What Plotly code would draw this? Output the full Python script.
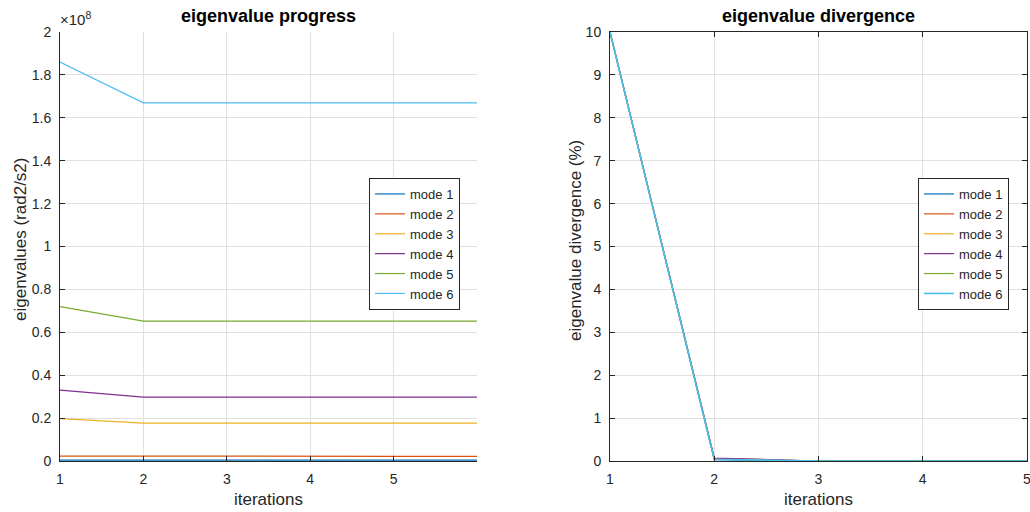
import plotly.graph_objects as go

# ---- data ----
iter_progress = [1, 2, 3, 4, 5, 6]
iter_diverg = [1, 2, 3, 4, 5]
mode_names = ["mode 1", "mode 2", "mode 3", "mode 4", "mode 5", "mode 6"]

mode1_eig = [0.004e8, 0.004e8, 0.004e8, 0.004e8, 0.004e8, 0.004e8]
mode2_eig = [0.023e8, 0.022e8, 0.022e8, 0.022e8, 0.022e8, 0.022e8]
mode3_eig = [0.198e8, 0.177e8, 0.177e8, 0.177e8, 0.177e8, 0.177e8]
mode4_eig = [0.33e8, 0.298e8, 0.298e8, 0.298e8, 0.298e8, 0.298e8]
mode5_eig = [0.72e8, 0.652e8, 0.652e8, 0.652e8, 0.652e8, 0.652e8]
mode6_eig = [1.86e8, 1.67e8, 1.67e8, 1.67e8, 1.67e8, 1.67e8]

mode1_div = [10, 0.03, 0, 0, 0]
mode2_div = [10, 0.06, 0, 0, 0]
mode3_div = [10, 0.05, 0, 0, 0]
mode4_div = [10, 0.07, 0, 0, 0]
mode5_div = [10, 0.04, 0, 0, 0]
mode6_div = [10, 0.04, 0, 0, 0]

left_ytick_vals = [0, 0.2e8, 0.4e8, 0.6e8, 0.8e8, 1.0e8, 1.2e8, 1.4e8, 1.6e8, 1.8e8, 2.0e8]
left_ytick_text = ["0", "0.2", "0.4", "0.6", "0.8", "1", "1.2", "1.4", "1.6", "1.8", "2"]
left_xticks = [1, 2, 3, 4, 5]
right_yticks = [0, 1, 2, 3, 4, 5, 6, 7, 8, 9, 10]
right_xticks = [1, 2, 3, 4, 5]

colors = ["#0072BD", "#D95319", "#EDB120", "#7E2F8E", "#77AC30", "#4DBEEE"]

eig_series = [mode1_eig, mode2_eig, mode3_eig, mode4_eig, mode5_eig, mode6_eig]
div_series = [mode1_div, mode2_div, mode3_div, mode4_div, mode5_div, mode6_div]

FONT = "Liberation Sans, Arial, sans-serif"
TXT = "#262626"
GRID = "#e0e0e0"

fig = go.Figure()
for name, ys, c in zip(mode_names, eig_series, colors):
    fig.add_trace(go.Scatter(x=iter_progress, y=ys, mode="lines", name=name,
                             line=dict(color=c, width=1.2), xaxis="x", yaxis="y",
                             legend="legend"))
for i, (name, ys, c) in enumerate(zip(mode_names, div_series, colors)):
    fig.add_trace(go.Scatter(x=iter_diverg, y=ys, mode="lines", name=name,
                             line=dict(color=c, width=1.6 if i == 5 else 1.2),
                             xaxis="x2", yaxis="y2", legend="legend2"))

W, H = 1030, 512
def px_x(p):
    return p / W
def px_y(p):
    return 1 - p / H

axis_common = dict(showgrid=True, gridcolor=GRID, gridwidth=1, zeroline=False,
                   ticks="inside", ticklen=5, tickcolor=TXT, linecolor=TXT, linewidth=1,
                   showline=True, automargin=False, ticklabelstandoff=5,
                   ticklabeloverflow="allow",
                   tickfont=dict(family=FONT, size=14, color=TXT))

LX0, LX1, RX0, RX1, YT, YB = 60, 477, 610, 1027, 32, 461

fig.update_layout(
    width=W, height=H,
    margin=dict(l=0, r=0, t=0, b=0, pad=0, autoexpand=False),
    paper_bgcolor="white", plot_bgcolor="white",
    font=dict(family=FONT, color=TXT),
    xaxis=dict(domain=[px_x(LX0), px_x(LX1)], range=[1, 6], tickvals=left_xticks,
               anchor="y", mirror=False, **axis_common),
    yaxis=dict(domain=[px_y(YB), px_y(YT)], range=[0, 2e8], tickvals=left_ytick_vals,
               ticktext=left_ytick_text, anchor="x", mirror=False, **axis_common),
    xaxis2=dict(domain=[px_x(RX0), px_x(RX1)], range=[1, 5], tickvals=right_xticks,
                anchor="y2", mirror="ticks", **axis_common),
    yaxis2=dict(domain=[px_y(YB), px_y(YT)], range=[0, 10], tickvals=right_yticks,
                anchor="x2", mirror="ticks", **axis_common),
    legend=dict(x=px_x(369), y=px_y(244), xanchor="left", yanchor="middle",
                bgcolor="white", bordercolor="#262626", borderwidth=1,
                font=dict(family=FONT, size=13, color=TXT), tracegroupgap=0),
    legend2=dict(x=px_x(918), y=px_y(244), xanchor="left", yanchor="middle",
                 bgcolor="white", bordercolor="#262626", borderwidth=1,
                 font=dict(family=FONT, size=13, color=TXT), tracegroupgap=0),
)

def ann(text, x, y, size, angle=0, color=TXT, xanchor="center"):
    return dict(text=text, x=px_x(x), y=px_y(y), xref="paper", yref="paper",
                showarrow=False, xanchor=xanchor, yanchor="middle", textangle=angle,
                font=dict(family=FONT, size=size, color=color))

fig.update_layout(annotations=[
    ann("<b>eigenvalue progress</b>", (LX0 + LX1) / 2, 16, 18, color="#000000"),
    ann("<b>eigenvalue divergence</b>", (RX0 + RX1) / 2, 16, 18, color="#000000"),
    ann("×10<sup>8</sup>", 58, 18, 15, xanchor="left"),
    ann("iterations", (LX0 + LX1) / 2, 499, 17),
    ann("iterations", (RX0 + RX1) / 2, 499, 17),
    ann("eigenvalues (rad2/s2)", 20, 240, 17, angle=-90),
    ann("eigenvalue divergence (%)", 575, 241, 17, angle=-90),
])

fig.write_html("out.html", config={"displayModeBar": False},
               post_script="document.body.style.margin='0';")
